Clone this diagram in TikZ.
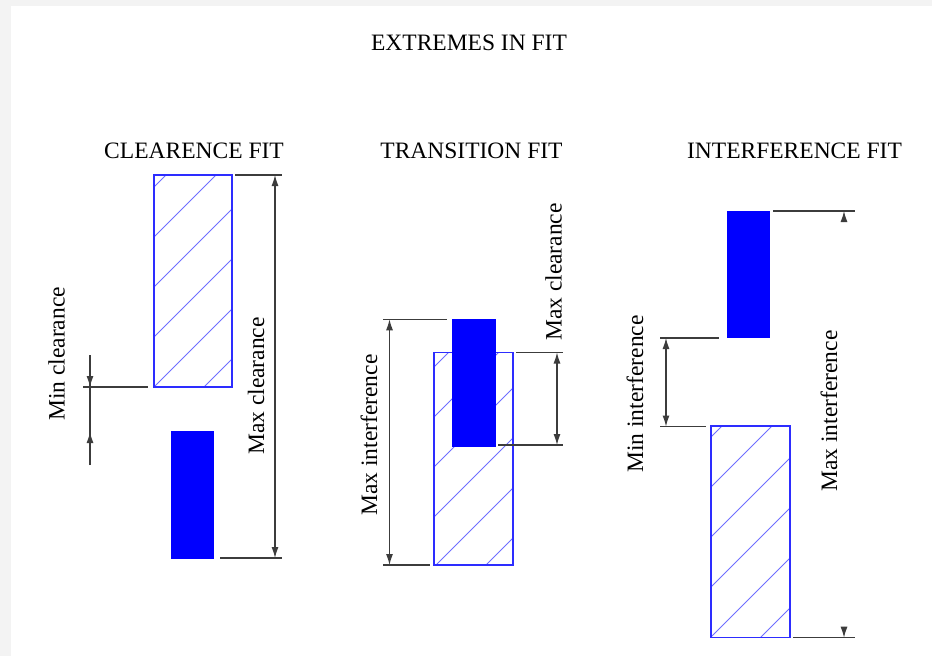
\documentclass[tikz,border=0pt]{standalone}
\usepackage{fontspec}
\setmainfont{Liberation Serif}
\usetikzlibrary{arrows.meta}
\definecolor{holeblue}{RGB}{45,45,255}
\definecolor{hatchblue}{RGB}{110,110,255}
\definecolor{shaftblue}{RGB}{0,0,255}
\definecolor{bggray}{RGB}{243,243,243}
\definecolor{dimgray}{RGB}{60,60,60}
\newcommand{\hatchbox}[2]{%
  \begin{scope}
    \clip (#1.south west) rectangle (#1.north east);
    \foreach \k in {0,...,32} {%
      \pgfmathsetmacro{\cc}{#2+50*\k}
      \draw[hatchline] (\cc,0) -- (0,\cc);}
  \end{scope}}
\begin{document}
\begin{tikzpicture}[x=1pt,y=-1pt,
  lbl/.style={font=\fontsize{23.5}{28}\selectfont, inner sep=0},
  vlbl/.style={lbl, rotate=90},
  hole/.style={draw=holeblue, line width=1.3pt, inner sep=0, outer sep=0},
  shaft/.style={fill=shaftblue, draw=shaftblue, line width=0.5pt, inner sep=0, outer sep=0},
  hatchline/.style={draw=hatchblue, line width=1pt},
  ext/.style={draw=dimgray, line width=1.2pt},
  tip/.style={-{Latex[length=11pt,width=7pt]}},
  dim/.style={draw=dimgray, line width=1.2pt, {Latex[length=11pt,width=7pt]}-{Latex[length=11pt,width=7pt]}}]
\useasboundingbox (0,0) rectangle (932,656);
\fill[bggray] (0,0) rectangle (932,656);
\fill[white] (11,6) rectangle (932,656);

% titles
\node[lbl] (title) at (469,43) {EXTREMES IN FIT};
\node[lbl] (tc) at (194,151) {CLEARENCE FIT};
\node[lbl] (tt) at (471.5,151) {TRANSITION FIT};
\node[lbl] (ti) at (794.5,151) {INTERFERENCE FIT};

% ---------- clearance fit ----------
\node[hole, minimum width=78pt, minimum height=212pt] (cHole) at (193,281) {};
\hatchbox{cHole}{41}
\node[hole, minimum width=78pt, minimum height=212pt] at (193,281) {};
\node[shaft, minimum width=41.5pt, minimum height=126.5pt] (cShaft) at (192.25,494.75) {};

\coordinate (cmaxT1) at (235,175);  \coordinate (cmaxT2) at (282,175);
\coordinate (cmaxB1) at (220,558);  \coordinate (cmaxB2) at (282,558);
\draw[ext] (cmaxT1) -- (cmaxT2);
\draw[ext] (cmaxB1) -- (cmaxB2);
\coordinate (cmaxU) at (275,175); \coordinate (cmaxD) at (275,558);
\draw[dim] (cmaxU) -- (cmaxD);
\node[vlbl] (lcmax) at (256,386) {Max clearance};

\coordinate (cminE1) at (83,387); \coordinate (cminE2) at (148,387);
\draw[ext] (cminE1) -- (cminE2);
\coordinate (cminTop) at (90,355); \coordinate (cminBot) at (90,465);
\coordinate (cminA) at (90,387); \coordinate (cminB) at (90,432);
\draw[ext] (cminTop) -- (cminBot);
\draw[ext, tip] (cminTop) -- (cminA);
\draw[ext, tip] (cminBot) -- (cminB);
\node[vlbl] (lcmin) at (56.5,354) {Min clearance};

% ---------- transition fit ----------
\node[hole, minimum width=79pt, minimum height=212.5pt] (tHole) at (473.5,458.75) {};
\hatchbox{tHole}{1}
\node[hole, minimum width=79pt, minimum height=212.5pt] at (473.5,458.75) {};
\node[shaft, minimum width=42.3pt, minimum height=127.4pt] (tShaft) at (473.85,383) {};

\coordinate (tmiT1) at (383,319.3); \coordinate (tmiT2) at (447,319.3);
\coordinate (tmiB1) at (383,565);   \coordinate (tmiB2) at (430,565);
\draw[ext] (tmiT1) -- (tmiT2);
\draw[ext] (tmiB1) -- (tmiB2);
\coordinate (tmiU) at (389.5,319.3); \coordinate (tmiD) at (389.5,565);
\draw[dim] (tmiU) -- (tmiD);
\node[vlbl] (ltmi) at (369,435) {Max interference};

\coordinate (tmcT1) at (516,352.5); \coordinate (tmcT2) at (563,352.5);
\coordinate (tmcB1) at (498,445);   \coordinate (tmcB2) at (563,445);
\draw[ext] (tmcT1) -- (tmcT2);
\draw[ext] (tmcB1) -- (tmcB2);
\coordinate (tmcU) at (557,352.5); \coordinate (tmcD) at (557,445);
\draw[dim] (tmcU) -- (tmcD);
\node[vlbl] (ltmc) at (553.5,272) {Max clearance};

% ---------- interference fit ----------
\node[shaft, minimum width=42pt, minimum height=126.7pt] (iShaft) at (748,274.35) {};
\node[hole, minimum width=79pt, minimum height=211.7pt] (iHole) at (750.5,531.85) {};
\hatchbox{iHole}{48}
\node[hole, minimum width=79pt, minimum height=211.7pt] at (750.5,531.85) {};

\coordinate (iminT1) at (660,338); \coordinate (iminT2) at (719,338);
\coordinate (iminB1) at (660,426.5); \coordinate (iminB2) at (706,426.5);
\draw[ext] (iminT1) -- (iminT2);
\draw[ext] (iminB1) -- (iminB2);
\coordinate (iminU) at (666,338); \coordinate (iminD) at (666,426.5);
\draw[dim] (iminU) -- (iminD);
\node[vlbl] (limin) at (635,394) {Min interference};

\coordinate (imaxT1) at (773,211); \coordinate (imaxT2) at (855,211);
\coordinate (imaxB1) at (793,637.7); \coordinate (imaxB2) at (855,637.7);
\draw[ext] (imaxT1) -- (imaxT2);
\draw[ext] (imaxB1) -- (imaxB2);
\coordinate (imaxAu0) at (844,222) ; \coordinate (imaxAu) at (844,211);
\coordinate (imaxAd0) at (844,626.7); \coordinate (imaxAd) at (844,637.7);
\draw[ext, tip] (imaxAu0) -- (imaxAu);
\draw[ext, tip] (imaxAd0) -- (imaxAd);
\node[vlbl] (limax) at (829,411) {Max interference};
\end{tikzpicture}
\end{document}
